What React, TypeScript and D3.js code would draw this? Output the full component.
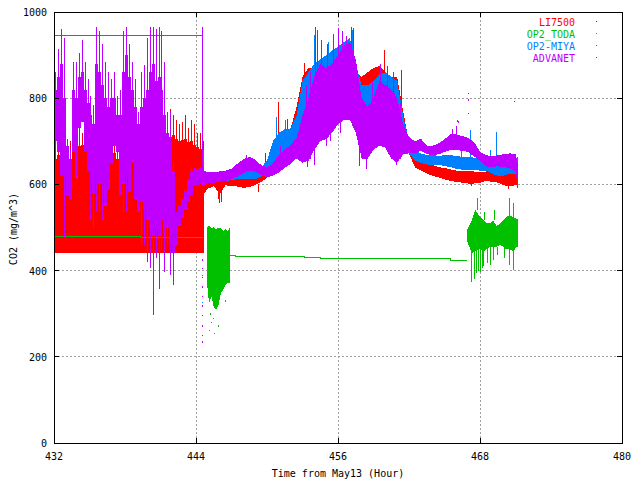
import React from 'react';
import * as d3 from 'd3';

type Seg = [number, number, number];

const xTicks = [432, 444, 456, 468, 480];
const yTicks = [0, 200, 400, 600, 800, 1000];
const seriesNames = ['LI7500', 'OP2_TODA', 'OP2-MIYA', 'ADVANET'];
const seriesColors = ['#ff0000', '#00c000', '#0080ff', '#c000ff'];

// ---- first part, up to ~444.6 h, read in 15 min bins ----
const tA = [432, 432.25, 432.5, 432.75, 433, 433.25, 433.5, 433.75, 434, 434.25, 434.5, 434.75,
  435, 435.25, 435.5, 435.75, 436, 436.25, 436.5, 436.75, 437, 437.25, 437.5, 437.75,
  438, 438.25, 438.5, 438.75, 439, 439.25, 439.5, 439.75, 440, 440.25, 440.5, 440.75,
  441, 441.25, 441.5, 441.75, 442, 442.25, 442.5, 442.75, 443, 443.25, 443.5, 443.75,
  444, 444.25, 444.5];
const endA = 444.65;

const liFloorA = 440;
const liTopA = [660, 668, 665, 650, 650, 652, 680, 690, 688, 692, 700, 705, 700, 706, 698, 695, 700, 690, 680, 690,
  672, 660, 668, 655, 660, 665, 668, 660, 670, 695, 705, 700, 710, 700, 712, 708, 712, 705, 698, 710,
  715, 705, 700, 702, 706, 698, 700, 692, 686, 682, 680];
const liSpikeA = [720, 737, 700, 690, 670, 700, 720, 740, 735, 720, 745, 760, 730, 745, 735, 725, 740, 720, 720, 735,
  705, 700, 690, 680, 700, 690, 700, 690, 700, 740, 750, 740, 760, 745, 760, 750, 770, 745, 735, 775,
  760, 750, 740, 745, 760, 730, 750, 740, 720, 720, 700];

const advSpikeA = [860, 915, 960, 940, 705, 680, 885, 885, 905, 935, 885, 845, 805, 785, 965, 955, 925, 885, 860, 845,
  860, 805, 820, 955, 965, 925, 884, 845, 768, 861, 876, 940, 965, 965, 960, 965, 955, 884, 768, 768,
  652, 536, 552, 567, 590, 613, 637, 637, 637, 640, 640];
const advTopA = [820, 850, 880, 800, 690, 660, 820, 800, 850, 860, 820, 790, 760, 740, 880, 860, 830, 800, 780, 800,
  800, 760, 760, 860, 900, 850, 820, 780, 740, 780, 800, 820, 860, 880, 840, 850, 820, 760, 720, 700,
  630, 530, 550, 565, 585, 610, 632, 635, 635, 638, 638];
const advBottomA = [700, 675, 620, 620, 575, 565, 675, 615, 730, 745, 675, 630, 600, 580, 600, 600, 600, 550, 590, 650,
  690, 675, 575, 600, 620, 583, 652, 567, 536, 560, 540, 520, 500, 480, 500, 480, 520, 480, 500, 460,
  440, 459, 505, 521, 544, 559, 575, 598, 598, 600, 598];
const advDipA = [700, 675, 620, 475, 575, 565, 675, 615, 730, 745, 675, 630, 520, 500, 535, 535, 520, 550, 590, 650,
  690, 675, 575, 535, 535, 583, 652, 567, 536, 459, 459, 420, 405, 297, 430, 358, 450, 397, 459, 389,
  366, 459, 505, 521, 544, 559, 575, 598, 598, 600, 598];

const miyaLineT = [432, 444.5];
const miyaLineV = [946, 946];
const todaLineT = [432, 439.3, 444.6];
const todaLineV = [479, 477, 477];

// jump between the two parts
const advJump: Seg[] = [[444.55, 600, 965]];
const miyaJump: Seg[] = [[444.58, 640, 940], [444.6, 620, 680]];
const advJumpDots = [[444.55, 425], [444.55, 405], [444.55, 385], [444.55, 362], [444.55, 340], [444.55, 318], [444.55, 296], [444.55, 272], [444.55, 250], [444.55, 235]];
const miyaJumpDots = [[444.55, 389], [444.55, 327]];

// ---- second part, 444.7 h onwards, read every 30 min ----
const tB = [444.7, 445, 445.5, 446, 446.5, 447, 447.5, 448, 448.5, 449, 449.5, 450, 450.5, 451, 451.5, 452, 452.5,
  453, 453.5, 454, 454.5, 455, 455.5, 456, 456.5, 457, 457.5, 458, 458.5, 459, 459.5, 460, 460.5, 461, 461.5,
  462, 462.5, 463, 463.5, 464, 464.5, 465, 465.5, 466, 466.5, 467, 467.5, 468, 468.5, 469, 469.5, 470, 470.5,
  471, 471.2];

const liHiB = [615, 615, 612, 614, 615, 616, 618, 620, 620, 622, 632, 648, 690, 712, 720, 730, 780, 850, 870, 870,
  880, 890, 900, 910, 920, 930, 860, 850, 860, 870, 875, 860, 850, 850, 770, 700, 660, 652, 646, 645,
  640, 638, 635, 632, 630, 630, 630, 628, 630, 632, 630, 626, 625, 628, 640];
const liLoB = [580, 590, 596, 578, 598, 596, 595, 592, 594, 598, 606, 615, 640, 660, 670, 680, 700, 740, 760, 770,
  780, 790, 800, 810, 810, 790, 750, 760, 760, 770, 780, 770, 760, 750, 700, 672, 640, 632, 625, 620,
  616, 612, 608, 606, 604, 602, 602, 604, 608, 606, 604, 598, 596, 598, 600];
const miyaHiB = [625, 622, 620, 624, 628, 630, 632, 635, 634, 633, 640, 655, 700, 720, 728, 730, 760, 840, 860, 880,
  890, 900, 910, 920, 930, 940, 880, 830, 830, 840, 855, 860, 850, 840, 760, 700, 680, 672, 668, 668,
  666, 668, 668, 666, 664, 664, 662, 658, 656, 650, 648, 650, 652, 655, 665];
const miyaLoB = [602, 604, 606, 606, 608, 610, 612, 612, 612, 612, 618, 625, 650, 660, 670, 680, 700, 730, 740, 760,
  780, 790, 800, 810, 800, 780, 740, 726, 726, 740, 750, 750, 740, 730, 690, 672, 655, 650, 646, 645,
  645, 643, 640, 636, 634, 634, 634, 632, 632, 625, 620, 620, 625, 625, 620];
const advHiB = [632, 628, 628, 630, 632, 636, 648, 658, 664, 658, 645, 640, 648, 668, 680, 692, 708, 760, 800, 850,
  880, 870, 880, 900, 920, 930, 890, 800, 780, 800, 840, 830, 820, 800, 740, 710, 700, 706, 690, 690,
  695, 705, 716, 716, 712, 708, 698, 676, 668, 665, 668, 670, 672, 670, 650];
const advLoB = [598, 602, 604, 606, 608, 612, 618, 626, 632, 630, 622, 616, 620, 628, 638, 648, 660, 650, 655, 680,
  700, 705, 720, 740, 750, 750, 720, 660, 660, 680, 690, 685, 660, 650, 670, 672, 672, 678, 670, 668,
  670, 675, 680, 680, 678, 675, 665, 655, 642, 640, 642, 640, 638, 630, 592];

const liSpikesB: Seg[] = [[451.0, 700, 792], [451.7, 700, 752], [453.2, 780, 881], [459.9, 790, 912], [461.4, 730, 865],
  [449.9, 630, 672], [455.6, 820, 915], [456.8, 820, 930], [452.8, 740, 820], [457.9, 800, 850],
  [446.0, 556, 600], [446.15, 560, 600], [445.9, 565, 600], [467.3, 597, 610], [470.4, 590, 600], [449.3, 582, 600]];
const miyaSpikesB: Seg[] = [[454.0, 800, 946], [457.2, 800, 958], [469.4, 650, 722], [467.2, 660, 726], [450.8, 680, 757],
  [451.6, 690, 750], [453.1, 760, 834], [455.2, 800, 930], [456.4, 810, 945], [466.4, 660, 690], [468.9, 645, 680]];
const advSpikesB: Seg[] = [[454.1, 700, 965], [454.25, 720, 958], [454.6, 720, 935], [455.1, 720, 925], [455.6, 740, 950],
  [456.0, 740, 962], [456.35, 760, 955], [456.7, 760, 945], [457.15, 750, 966], [457.35, 740, 962],
  [453.3, 660, 830], [453.7, 660, 860], [459.6, 700, 880], [460.2, 700, 875], [460.7, 680, 860],
  [458.95, 690, 840], [461.3, 660, 790], [466.05, 690, 735], [465.7, 690, 728], [451.1, 630, 690],
  [448.3, 630, 668], [453.45, 640, 700], [454.05, 645, 700], [457.85, 643, 700], [458.45, 635, 680],
  [460.95, 645, 680], [455.0, 690, 720], [455.4, 700, 730], [456.2, 720, 750], [471.15, 592, 640]];
const advDotsB = [[467.07, 811], [467.07, 796], [467.07, 765], [470.9, 793], [466.1, 748], [466.2, 745]];

// OP2_TODA: noisy burst, flat logged value, second burst
const todaT1 = [444.9, 445.1, 445.3, 445.5, 445.7, 445.9, 446.1, 446.3, 446.5, 446.7, 446.85];
const todaHi1 = [500, 505, 498, 502, 495, 500, 498, 492, 496, 490, 500];
const todaLo1 = [378, 325, 340, 316, 309, 320, 348, 355, 367, 371, 371];
const todaDots1 = [[445.1, 262], [445.6, 255], [445.9, 272], [445.5, 290], [445.2, 300], [446.5, 330], [445.35, 280]];

const todaLineT2 = [446.85, 447.3, 453.2, 454.5, 462.9, 465.5, 466.9];
const todaLineV2 = [434, 432, 430, 429, 427, 424, 424];

const todaT3 = [466.9, 467.3, 467.6, 468.0, 468.3, 468.6, 468.85, 469.1, 469.4, 469.7, 470.0, 470.2, 470.5, 470.8, 471.1, 471.2];
const todaHi3 = [494, 517, 541, 525, 517, 510, 510, 517, 503, 510, 517, 524, 529, 524, 520, 520];
const todaLo3 = [470, 440, 445, 450, 445, 450, 455, 455, 455, 460, 455, 450, 450, 445, 455, 455];
const todaSpikes3: Seg[] = [[467.25, 374, 440], [467.5, 380, 445], [467.7, 394, 445], [468.0, 396, 450], [468.3, 410, 445],
  [468.6, 417, 450], [468.9, 414, 455], [469.1, 425, 455], [470.5, 414, 450], [470.8, 401, 445],
  [467.9, 400, 450], [468.2, 405, 445], [469.5, 436, 455], [470.1, 430, 455],
  [467.8, 541, 568], [470.5, 529, 568], [470.8, 524, 557], [469.2, 517, 540], [468.4, 517, 535]];

const FONT = '"DejaVu Sans Mono", "Liberation Mono", monospace';

export default function App() {
  const x = d3.scaleLinear().domain([432, 480]).range([54, 622]);
  const y = d3.scaleLinear().domain([0, 1000]).range([443, 12]);
  const [left, right] = x.range();
  const [bottom, top] = y.range();

  const band = (t: number[], hi: number[], lo: number[]) =>
    d3.area<number>()
      .x(d => x(d))
      .y0((_, i) => y(lo[i]))
      .y1((_, i) => y(hi[i]))(t) || '';

  const path = (t: number[], v: number[], curve: d3.CurveFactory) =>
    d3.line<number>().x(d => x(d)).y((_, i) => y(v[i])).curve(curve)(t) || '';

  // 15-min bin rectangles for the first part
  const bins = (hi: number[], lo: number[], color: string) =>
    tA.map((t, i) => {
      const x0 = x(t);
      const x1 = x(i < tA.length - 1 ? tA[i + 1] : endA);
      return <rect key={i} x={x0} width={x1 - x0} y={y(hi[i])} height={y(lo[i]) - y(hi[i])} fill={color} />;
    });

  const binLines = (from: number[], to: number[], color: string) =>
    tA.map((t, i) => (
      <line key={i} x1={x(t + 0.125)} x2={x(t + 0.125)} y1={y(from[i])} y2={y(to[i])} stroke={color} strokeWidth={1} />
    ));

  const segs = (s: Seg[], color: string) =>
    s.map(([t, a, b], i) => (
      <line key={i} x1={x(t)} x2={x(t)} y1={y(a)} y2={y(b)} stroke={color} strokeWidth={1} />
    ));

  const dots = (p: number[][], color: string) =>
    p.map(([t, v], i) => <rect key={i} x={x(t) - 0.5} y={y(v) - 0.5} width={1} height={1.5} fill={color} />);

  const [red, green, blue, purple] = seriesColors;

  return (
    <svg width={640} height={480} style={{ position: 'absolute', left: 0, top: 0, background: '#fff' }}
      fontFamily={FONT} fontSize={10}>
      <rect x={0} y={0} width={640} height={480} fill="#fff" />

      {/* grid */}
      <g stroke="#a0a0a0" strokeWidth={1} strokeDasharray="2,2" shapeRendering="crispEdges">
        {xTicks.slice(1, -1).map(t => <line key={t} x1={x(t)} x2={x(t)} y1={top} y2={bottom} />)}
        {yTicks.slice(1, -1).map(v => <line key={v} x1={left} x2={right} y1={y(v)} y2={y(v)} />)}
      </g>

      {/* LI7500 */}
      <g shapeRendering="crispEdges">
        {bins(liTopA, tA.map(() => liFloorA), red)}
        {binLines(liTopA, liSpikeA, red)}
        <path d={band(tB, liHiB, liLoB)} fill={red} />
        {segs(liSpikesB, red)}
      </g>

      {/* OP2_TODA */}
      <g shapeRendering="crispEdges">
        <path d={path(todaLineT, todaLineV, d3.curveStepAfter)} fill="none" stroke={green} strokeWidth={1} />
        <path d={band(todaT1, todaHi1, todaLo1)} fill={green} />
        {dots(todaDots1, green)}
        <path d={path(todaLineT2, todaLineV2, d3.curveStepAfter)} fill="none" stroke={green} strokeWidth={1} />
        <path d={band(todaT3, todaHi3, todaLo3)} fill={green} />
        {segs(todaSpikes3, green)}
      </g>

      {/* OP2-MIYA */}
      <g shapeRendering="crispEdges">
        <path d={path(miyaLineT, miyaLineV, d3.curveLinear)} fill="none" stroke={blue} strokeWidth={1} />
        {segs(miyaJump, blue)}
        {dots(miyaJumpDots, blue)}
        <path d={band(tB, miyaHiB, miyaLoB)} fill={blue} />
        {segs(miyaSpikesB, blue)}
      </g>

      {/* ADVANET */}
      <g shapeRendering="crispEdges">
        {bins(advTopA, advBottomA, purple)}
        {binLines(advTopA, advSpikeA, purple)}
        {binLines(advDipA, advBottomA, purple)}
        {segs(advJump, purple)}
        {dots(advJumpDots, purple)}
        <path d={band(tB, advHiB, advLoB)} fill={purple} />
        {segs(advSpikesB, purple)}
        {dots(advDotsB, purple)}
      </g>

      {/* border and ticks */}
      <g stroke="#000" strokeWidth={1} shapeRendering="crispEdges" fill="none">
        <rect x={left} y={top} width={right - left} height={bottom - top} />
        {xTicks.map(t => (
          <g key={t}>
            <line x1={x(t)} x2={x(t)} y1={bottom} y2={bottom - 5} />
            <line x1={x(t)} x2={x(t)} y1={top} y2={top + 5} />
          </g>
        ))}
        {yTicks.map(v => (
          <g key={v}>
            <line x1={left} x2={left + 5} y1={y(v)} y2={y(v)} />
            <line x1={right} x2={right - 5} y1={y(v)} y2={y(v)} />
          </g>
        ))}
      </g>

      {/* tick labels */}
      {xTicks.map(t => (
        <text key={t} x={x(t)} y={460} textAnchor="middle" fill="#000">{t}</text>
      ))}
      {yTicks.map(v => (
        <text key={v} x={47} y={y(v) + 4} textAnchor="end" fill="#000">{v}</text>
      ))}

      {/* axis titles */}
      <text x={(left + right) / 2} y={477} textAnchor="middle" fill="#000">Time from May13 (Hour)</text>
      <text transform={`translate(17,229) rotate(-90)`} textAnchor="middle" fill="#000">CO2 (mg/m^3)</text>

      {/* legend */}
      {seriesNames.map((name, i) => (
        <g key={name}>
          <text x={575} y={26 + i * 12} textAnchor="end" fill={seriesColors[i]}>{name}</text>
          <rect x={596} y={21 + i * 12} width={1} height={1} fill={seriesColors[i]} />
        </g>
      ))}
    </svg>
  );
}
